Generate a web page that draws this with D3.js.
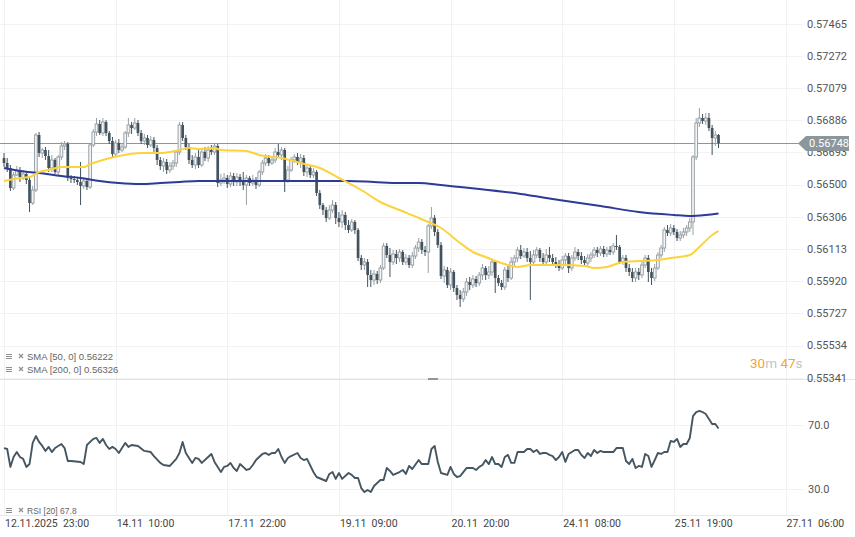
<!DOCTYPE html>
<html>
<head>
<meta charset="utf-8">
<script src="https://cdn.jsdelivr.net/npm/d3@7"></script>
<style>
  body { margin: 0; background: #fff; }
  svg { display: block; font-family: Roboto, "Noto Sans", sans-serif; }
</style>
</head>
<body>
<div id="chart"></div>
<script>
// hourly candles, [open, high, low, close]
var candles = [
[0.56659,0.56689,0.56605,0.56629],[0.56629,0.56659,0.56575,0.56599],[0.56599,0.56617,0.56461,0.56479],[0.56479,0.56575,0.56467,0.56557],
[0.56557,0.56611,0.56551,0.56587],[0.56587,0.56605,0.56515,0.56539],[0.56539,0.56587,0.56527,0.56563],[0.56563,0.56575,0.56503,0.56527],
[0.56527,0.56545,0.56335,0.56389],[0.56389,0.56491,0.56377,0.56467],[0.56467,0.56809,0.56455,0.56797],[0.56797,0.56815,0.56665,0.56689],
[0.56689,0.56719,0.56659,0.56707],[0.56707,0.56725,0.56647,0.56671],[0.56671,0.56707,0.56575,0.56599],[0.56599,0.56677,0.56575,0.56647],
[0.56647,0.56659,0.56563,0.56575],[0.56575,0.56677,0.56557,0.56665],[0.56665,0.56755,0.56647,0.56731],[0.56731,0.56761,0.56707,0.56743],
[0.56743,0.56755,0.56521,0.56539],[0.56539,0.56557,0.56509,0.56533],[0.56533,0.56551,0.56509,0.56527],[0.56527,0.56545,0.56497,0.56515],
[0.56515,0.56635,0.56377,0.56491],[0.56491,0.56539,0.56473,0.56521],[0.56521,0.56533,0.56467,0.56485],[0.56485,0.56749,0.56473,0.56737],
[0.56737,0.56833,0.56725,0.56815],[0.56815,0.56899,0.56791,0.56863],[0.56863,0.56887,0.56797,0.56809],[0.56809,0.56899,0.56791,0.56875],
[0.56875,0.56887,0.56791,0.56809],[0.56809,0.56821,0.56743,0.56761],[0.56761,0.56785,0.56659,0.56683],[0.56683,0.56767,0.56671,0.56749],
[0.56749,0.56773,0.56689,0.56707],[0.56707,0.56749,0.56695,0.56725],[0.56725,0.56821,0.56713,0.56809],[0.56809,0.56899,0.56785,0.56857],
[0.56857,0.56875,0.56803,0.56839],[0.56839,0.56899,0.56827,0.56869],[0.56869,0.56887,0.56791,0.56809],[0.56809,0.56827,0.56743,0.56761],
[0.56761,0.56803,0.56737,0.56779],[0.56779,0.56797,0.56719,0.56737],[0.56737,0.56791,0.56725,0.56767],[0.56767,0.56785,0.56689,0.56719],
[0.56719,0.56737,0.56617,0.56647],[0.56647,0.56665,0.56587,0.56611],[0.56611,0.56659,0.56575,0.56635],[0.56635,0.56653,0.56563,0.56587],
[0.56587,0.56635,0.56569,0.56611],[0.56611,0.56647,0.56587,0.56629],[0.56629,0.56707,0.56605,0.56695],[0.56695,0.56875,0.56677,0.56857],
[0.56857,0.56875,0.56761,0.56779],[0.56779,0.56797,0.56707,0.56725],[0.56725,0.56743,0.56623,0.56647],[0.56647,0.56677,0.56599,0.56617],
[0.56617,0.56689,0.56593,0.56665],[0.56665,0.56707,0.56599,0.56617],[0.56617,0.56713,0.56605,0.56695],[0.56695,0.56725,0.56641,0.56659],
[0.56659,0.56731,0.56635,0.56707],[0.56707,0.56737,0.56677,0.56695],[0.56695,0.56743,0.56677,0.56731],[0.56731,0.56743,0.56485,0.56509],
[0.56509,0.56563,0.56491,0.56527],[0.56527,0.56569,0.56503,0.56539],[0.56539,0.56557,0.56479,0.56503],[0.56503,0.56575,0.56485,0.56551],
[0.56551,0.56569,0.56491,0.56515],[0.56515,0.56569,0.56491,0.56545],[0.56545,0.56563,0.56491,0.56515],[0.56515,0.56575,0.56467,0.56497],
[0.56497,0.56557,0.56377,0.56539],[0.56539,0.56551,0.56491,0.56509],[0.56509,0.56557,0.56491,0.56527],[0.56527,0.56545,0.56473,0.56497],
[0.56497,0.56587,0.56485,0.56575],[0.56575,0.56647,0.56557,0.56629],[0.56629,0.56683,0.56611,0.56659],[0.56659,0.56677,0.56611,0.56629],
[0.56629,0.56671,0.56617,0.56647],[0.56647,0.56719,0.56629,0.56695],[0.56695,0.56743,0.56659,0.56677],[0.56677,0.56725,0.56647,0.56707],
[0.56707,0.56719,0.56455,0.56527],[0.56527,0.56611,0.56509,0.56587],[0.56587,0.56665,0.56575,0.56647],[0.56647,0.56683,0.56629,0.56665],
[0.56665,0.56689,0.56617,0.56635],[0.56635,0.56683,0.56599,0.56659],[0.56659,0.56677,0.56551,0.56575],[0.56575,0.56617,0.56545,0.56599],
[0.56599,0.56611,0.56539,0.56557],[0.56557,0.56599,0.56539,0.56575],[0.56575,0.56587,0.56431,0.56449],[0.56449,0.56467,0.56353,0.56377],
[0.56377,0.56389,0.56317,0.56347],[0.56347,0.56365,0.56275,0.56299],[0.56299,0.56377,0.56287,0.56347],[0.56347,0.56407,0.56329,0.56377],
[0.56377,0.56395,0.56263,0.56299],[0.56299,0.56335,0.56245,0.56275],[0.56275,0.56347,0.56239,0.56317],[0.56317,0.56335,0.56227,0.56257],
[0.56257,0.56287,0.56209,0.56227],[0.56227,0.56293,0.56215,0.56275],[0.56275,0.56287,0.56203,0.56227],[0.56227,0.56239,0.56041,0.56059],
[0.56059,0.56077,0.55987,0.56017],[0.56017,0.56059,0.55987,0.56035],[0.56035,0.56053,0.55885,0.55957],[0.55957,0.55987,0.55885,0.55927],
[0.55927,0.55987,0.55897,0.55963],[0.55963,0.55981,0.55903,0.55927],[0.55927,0.56017,0.55909,0.55999],[0.55999,0.56149,0.55987,0.56131],
[0.56131,0.56149,0.56059,0.56077],[0.56077,0.56119,0.55945,0.56035],[0.56035,0.56107,0.56017,0.56083],[0.56083,0.56107,0.56023,0.56059],
[0.56059,0.56113,0.56035,0.56095],[0.56095,0.56107,0.56017,0.56035],[0.56035,0.56083,0.56017,0.56059],[0.56059,0.56077,0.55999,0.56017],
[0.56017,0.56095,0.55999,0.56071],[0.56071,0.56137,0.56053,0.56119],[0.56119,0.56179,0.56095,0.56155],[0.56155,0.56173,0.56083,0.56107],
[0.56107,0.56131,0.56071,0.56095],[0.56095,0.56263,0.55969,0.56251],[0.56251,0.56365,0.56233,0.56299],[0.56299,0.56317,0.56191,0.56215],
[0.56215,0.56233,0.56119,0.56137],[0.56137,0.56155,0.55933,0.55951],[0.55951,0.56011,0.55909,0.55987],[0.55987,0.56005,0.55879,0.55897],
[0.55897,0.55999,0.55867,0.55975],[0.55975,0.55987,0.55855,0.55879],[0.55879,0.55897,0.55807,0.55837],[0.55837,0.55867,0.55765,0.55813],
[0.55813,0.55879,0.55795,0.55855],[0.55855,0.55939,0.55831,0.55915],[0.55915,0.55945,0.55867,0.55897],[0.55897,0.55957,0.55879,0.55933],
[0.55933,0.55951,0.55885,0.55909],[0.55909,0.55975,0.55891,0.55957],[0.55957,0.56023,0.55927,0.55999],[0.55999,0.56011,0.55927,0.55957],
[0.55957,0.56011,0.55933,0.55975],[0.55975,0.56053,0.55951,0.56035],[0.56035,0.56047,0.55849,0.55939],[0.55939,0.55957,0.55891,0.55909],
[0.55909,0.55927,0.55867,0.55885],[0.55885,0.56005,0.55867,0.55987],[0.55987,0.56011,0.55915,0.55939],[0.55939,0.56065,0.55927,0.56035],
[0.56035,0.56077,0.56011,0.56059],[0.56059,0.56125,0.56035,0.56107],[0.56107,0.56137,0.56053,0.56071],[0.56071,0.56119,0.56059,0.56095],
[0.56095,0.56119,0.56035,0.56059],[0.56059,0.56101,0.55807,0.56035],[0.56035,0.56107,0.56017,0.56077],[0.56077,0.56125,0.56059,0.56107],
[0.56107,0.56119,0.56035,0.56059],[0.56059,0.56089,0.56017,0.56035],[0.56035,0.56113,0.56017,0.56077],[0.56077,0.56125,0.56035,0.56059],
[0.56059,0.56083,0.56017,0.56035],[0.56035,0.56065,0.55999,0.56023],[0.56023,0.56047,0.55981,0.55999],[0.55999,0.56071,0.55987,0.56047],
[0.56047,0.56089,0.56023,0.56071],[0.56071,0.56089,0.55969,0.55999],[0.55999,0.56077,0.55981,0.56059],[0.56059,0.56125,0.56041,0.56095],
[0.56095,0.56113,0.56047,0.56071],[0.56071,0.56095,0.56023,0.56047],[0.56047,0.56071,0.56005,0.56029],[0.56029,0.56083,0.56011,0.56059],
[0.56059,0.56095,0.56035,0.56077],[0.56077,0.56125,0.56059,0.56107],[0.56107,0.56125,0.56065,0.56089],[0.56089,0.56131,0.56071,0.56113],
[0.56113,0.56131,0.56065,0.56083],[0.56083,0.56125,0.56065,0.56107],[0.56107,0.56131,0.56077,0.56095],[0.56095,0.56149,0.56077,0.56131],
[0.56131,0.56197,0.56107,0.56125],[0.56125,0.56137,0.56023,0.56035],[0.56035,0.56077,0.56017,0.56059],[0.56059,0.56077,0.55975,0.55999],
[0.55999,0.56023,0.55951,0.55975],[0.55975,0.55999,0.55915,0.55939],[0.55939,0.55999,0.55915,0.55975],[0.55975,0.55999,0.55927,0.55957],
[0.55957,0.56035,0.55939,0.56017],[0.56017,0.56077,0.55999,0.56059],[0.56059,0.56077,0.55915,0.55975],[0.55975,0.55999,0.55897,0.55939],
[0.55939,0.56023,0.55921,0.55999],[0.55999,0.56095,0.55987,0.56077],[0.56077,0.56137,0.56059,0.56119],[0.56119,0.56245,0.56095,0.56227],
[0.56227,0.56257,0.56191,0.56209],[0.56209,0.56263,0.56191,0.56239],[0.56239,0.56257,0.56197,0.56215],[0.56215,0.56233,0.56161,0.56179],
[0.56179,0.56221,0.56161,0.56197],[0.56197,0.56239,0.56179,0.56215],[0.56215,0.56257,0.56191,0.56239],[0.56239,0.56299,0.56215,0.56275],
[0.56275,0.56677,0.56197,0.56665],[0.56665,0.56899,0.56647,0.56869],[0.56869,0.56959,0.56845,0.56899],[0.56899,0.56923,0.56863,0.56881],
[0.56881,0.56929,0.56857,0.56899],[0.56899,0.56929,0.56821,0.56839],[0.56839,0.56857,0.56677,0.56779],[0.56779,0.56821,0.56731,0.56797],
[0.56797,0.56803,0.56719,0.56748]
];

// moving averages read at candle indices: [index, value]
var sma50 = [[0,0.56521],[5,0.56539],[8,0.56545],[11,0.56575],[14,0.56587],[18,0.56605],[21,0.56605],[25,0.56605],[27,0.56623],[30,0.56641],
  [36,0.56671],[43,0.56689],[49,0.56689],[55,0.56707],[58,0.56719],[61,0.56713],[66,0.56719],[68,0.56707],[76,0.56701],[80,0.56677],
  [87,0.56659],[93,0.56629],[99,0.56599],[105,0.56539],[112,0.56467],[118,0.56395],[124,0.56347],[130,0.56299],[137,0.56239],[143,0.56149],
  [147,0.56095],[151,0.56065],[155,0.56035],[161,0.56005],[165,0.56017],[170,0.56017],[175,0.56017],[182,0.56011],[185,0.55999],[189,0.56005],
  [194,0.56035],[199,0.56041],[205,0.56047],[209,0.56059],[215,0.56077],[218,0.56125],[222,0.56197],[224,0.56222]];
var sma200 = [[0,0.56599],[5,0.56581],[11,0.56569],[18,0.56551],[24,0.56539],[30,0.56521],[36,0.56509],[43,0.56503],[49,0.56509],[55,0.56515],
  [61,0.56521],[76,0.56521],[93,0.56521],[108,0.56521],[116,0.56515],[124,0.56509],[130,0.56509],[137,0.56497],[143,0.56485],[149,0.56473],
  [162,0.56443],[174,0.56407],[187,0.56371],[199,0.56335],[210,0.56317],[215,0.56311],[220,0.56317],[224,0.56326]];

var rsi = [[0,55.6],[1,55.0],[2,43.8],[3,50.0],[4,53.1],[5,50.0],[6,48.8],[7,43.8],[8,45.6],[9,58.8],[10,63.1],[11,59.4],[12,56.9],[13,53.8],
  [14,56.3],[15,53.1],[16,55.6],[18,58.1],[19,55.6],[20,47.5],[21,47.5],[24,46.9],[25,45.6],[26,57.5],[28,61.3],[29,61.9],[30,58.8],[31,61.3],
  [32,57.5],[33,55.0],[34,56.3],[35,55.0],[36,52.5],[38,58.8],[39,56.3],[40,57.5],[42,56.9],[44,53.8],[46,53.1],[47,50.6],[49,46.3],[50,45.0],
  [52,44.4],[54,48.8],[55,52.5],[56,59.4],[57,52.5],[58,49.4],[59,46.3],[60,49.4],[61,48.8],[62,46.3],[64,50.0],[65,51.9],[66,46.9],[68,40.6],
  [69,43.8],[70,44.4],[71,46.3],[72,43.1],[73,41.3],[74,45.6],[75,43.8],[76,41.9],[77,42.5],[78,45.0],[79,48.1],[81,51.9],[82,52.5],[83,51.3],
  [84,52.5],[85,52.5],[86,55.0],[87,50.0],[88,46.3],[89,49.4],[90,50.6],[92,52.5],[93,49.4],[94,48.1],[95,48.8],[97,40.6],[98,37.5],[101,35.0],
  [102,39.4],[103,40.6],[104,36.3],[105,40.0],[106,36.3],[108,40.0],[109,38.8],[110,36.9],[111,36.9],[112,30.6],[113,28.1],[114,29.4],[115,28.1],
  [116,31.9],[118,35.6],[119,35.6],[120,43.1],[121,41.3],[122,38.8],[124,40.6],[125,41.9],[126,39.4],[127,44.4],[128,42.5],[130,48.1],[131,45.6],
  [133,45.6],[134,55.0],[135,56.9],[136,46.9],[137,40.0],[139,38.8],[140,43.8],[141,39.4],[142,37.5],[143,38.1],[144,40.6],[145,43.1],[147,43.1],
  [148,41.9],[149,43.8],[150,45.0],[151,48.1],[152,45.6],[153,50.0],[154,45.6],[155,45.6],[156,43.8],[157,50.0],[158,51.3],[159,46.3],[160,46.3],
  [161,53.1],[163,53.1],[164,55.0],[165,55.0],[166,53.1],[167,54.4],[168,51.9],[169,52.5],[170,52.5],[171,51.3],[172,50.6],[173,48.1],[174,50.0],
  [175,53.1],[176,46.9],[177,51.9],[179,54.4],[180,54.4],[181,51.3],[182,49.4],[183,52.5],[184,50.6],[185,54.4],[186,52.5],[187,53.8],[188,53.1],
  [189,53.1],[191,53.1],[192,55.6],[194,55.6],[195,47.5],[196,45.6],[197,48.8],[198,43.1],[199,44.4],[200,43.8],[201,51.9],[202,50.6],[203,43.8],
  [204,48.1],[205,52.5],[206,51.9],[207,53.1],[208,53.1],[209,60.0],[210,59.4],[211,61.3],[212,56.3],[213,58.1],[214,58.1],[215,61.9],[216,75.6],
  [217,78.1],[218,78.8],[219,78.1],[220,76.9],[221,73.8],[222,70.6],[223,70.6],[224,67.8]];

var priceTicks = [0.57465,0.57272,0.57079,0.56886,0.56693,0.56500,0.56306,0.56113,0.55920,0.55727,0.55534,0.55341];
var rsiTicks = [70, 30];
var timeTickIdx = [0,35,70,105,140,175,210,245];
var timeTickLabels = ["12.11.2025  23:00","14.11  10:00","17.11  22:00","19.11  09:00","20.11  20:00","24.11  08:00","25.11  19:00","27.11  06:00"];
var lastPrice = 0.56748;
var legendMain = ["SMA [50, 0] 0.56222", "SMA [200, 0] 0.56326"];
var legendRsi = "RSI [20] 67.8";

var W = 855, H = 537;
var svg = d3.select("#chart").append("svg").attr("width", W).attr("height", H);

var x = d3.scaleLinear().domain([0, 245]).range([4, 785.5]);
var y = d3.scaleLinear().domain([0.57469, 0.55717]).range([23, 315]);
var yr = d3.scaleLinear().domain([70, 30]).range([425, 489]);
var plotRight = 803;

var grid = svg.append("g");
grid.selectAll(".vg").data(timeTickIdx).enter().append("line")
  .attr("x1", function(d){ return Math.round(x(d)) + 0.5; }).attr("x2", function(d){ return Math.round(x(d)) + 0.5; })
  .attr("y1", 0).attr("y2", 515).attr("stroke", "#eff1f3");
grid.selectAll(".hg").data(priceTicks).enter().append("line")
  .attr("x1", 0).attr("x2", plotRight)
  .attr("y1", function(d){ return Math.round(y(d)) + 0.5; }).attr("y2", function(d){ return Math.round(y(d)) + 0.5; })
  .attr("stroke", "#f1f2f4");
grid.selectAll(".rg").data(rsiTicks).enter().append("line")
  .attr("x1", 0).attr("x2", plotRight)
  .attr("y1", function(d){ return Math.round(yr(d)) + 0.5; }).attr("y2", function(d){ return Math.round(yr(d)) + 0.5; })
  .attr("stroke", "#f1f2f4");

// panel separators
svg.append("line").attr("x1", 0).attr("x2", W).attr("y1", 379.5).attr("y2", 379.5).attr("stroke", "#e2e4e7");
svg.append("line").attr("x1", 0).attr("x2", 800).attr("y1", 515.5).attr("y2", 515.5).attr("stroke", "#e6e8ea");
svg.append("rect").attr("x", 428).attr("y", 378).attr("width", 10).attr("height", 2).attr("fill", "#8f9599");

// price axis (the 0.56693 label sits partly under the price tag, as in the source)
svg.append("g").selectAll("text").data(priceTicks).enter().append("text")
  .attr("x", 807).attr("y", function(d){ return y(d); }).attr("dy", "0.35em")
  .attr("font-size", 11).attr("fill", "#555").text(function(d){ return d.toFixed(5); });

// current price line
var yp = Math.round(y(lastPrice)) + 0.5;
svg.append("line").attr("x1", 0).attr("x2", 800).attr("y1", yp).attr("y2", yp).attr("stroke", "#8c969b");

// candles
var bw = 2.7;
var cg = svg.append("g");
candles.forEach(function(c, i){
  var up = c[3] >= c[0];
  var cx = x(i);
  var col = up ? "#99a1a6" : "#43535e";
  cg.append("line").attr("x1", cx).attr("x2", cx).attr("y1", y(c[1])).attr("y2", y(c[2]))
    .attr("stroke", col).attr("stroke-width", 1);
  var top = y(Math.max(c[0], c[3])), bot = y(Math.min(c[0], c[3]));
  cg.append("rect").attr("x", cx - bw / 2).attr("y", top).attr("width", bw).attr("height", Math.max(1, bot - top))
    .attr("fill", up ? "#f4f5f6" : col).attr("stroke", up ? col : "none").attr("stroke-width", up ? 1 : 0);
});

// moving averages
var maLine = d3.line().curve(d3.curveMonotoneX).x(function(d){ return x(d[0]); }).y(function(d){ return y(d[1]); });
svg.append("path").datum(sma200).attr("d", maLine).attr("fill", "none").attr("stroke", "#2d3a97").attr("stroke-width", 2);
svg.append("path").datum(sma50).attr("d", maLine).attr("fill", "none").attr("stroke", "#fbd33c").attr("stroke-width", 2);

// price tag
var tag = svg.append("g");
tag.append("path").attr("d", "M798," + yp + " L806," + (yp - 7.5) + " L849," + (yp - 7.5) + " L849," + (yp + 7.5) + " L806," + (yp + 7.5) + " Z")
  .attr("fill", "#8c979c");
tag.append("text").attr("x", 809).attr("y", yp).attr("dy", "0.35em").attr("font-size", 11).attr("fill", "#fff")
  .text(lastPrice.toFixed(5));

// legend
function legendIcon(g, ly) {
  [0, 2, 4].forEach(function(o){
    g.append("rect").attr("x", 6).attr("y", ly - 3 + o).attr("width", 6).attr("height", 1).attr("fill", "#8f8f8f");
  });
  g.append("path").attr("d", "M19," + (ly - 3) + " L23," + (ly + 1) + " M23," + (ly - 3) + " L19," + (ly + 1))
    .attr("stroke", "#8f8f8f").attr("stroke-width", 1.2);
}
var lg = svg.append("g");
legendMain.forEach(function(t, k){
  var ly = 357 + k * 13;
  legendIcon(lg, ly);
  lg.append("text").attr("x", 27).attr("y", ly).attr("dy", "0.35em").attr("font-size", 9.5)
    .attr("font-family", "Liberation Sans, Arial, sans-serif").attr("fill", "#666").text(t);
});
legendIcon(lg, 511);
lg.append("text").attr("x", 27).attr("y", 511).attr("dy", "0.35em").attr("font-size", 8.5)
  .attr("font-family", "Liberation Sans, Arial, sans-serif").attr("fill", "#666").text(legendRsi);

// countdown
var cd = svg.append("text").attr("x", 750).attr("y", 368).attr("font-size", 13.5);
cd.append("tspan").attr("fill", "#f6a531").text("30");
cd.append("tspan").attr("fill", "#c2c5c8").text("m ");
cd.append("tspan").attr("fill", "#f6a531").text("47");
cd.append("tspan").attr("fill", "#c2c5c8").text("s");

// RSI
var rsiLine = d3.line().x(function(d){ return x(d[0]); }).y(function(d){ return yr(d[1]); });
svg.append("path").datum(rsi).attr("d", rsiLine).attr("fill", "none").attr("stroke", "#465661")
  .attr("stroke-width", 1.9).attr("stroke-linejoin", "round");
svg.append("g").selectAll("text").data(rsiTicks).enter().append("text")
  .attr("x", 808).attr("y", function(d){ return yr(d); }).attr("dy", "0.35em")
  .attr("font-size", 11).attr("fill", "#555").text(function(d){ return d.toFixed(1); });

// time axis
svg.append("g").selectAll("text").data(timeTickIdx).enter().append("text")
  .attr("x", function(d){ return x(d) + 1; }).attr("y", 527)
  .attr("font-size", 10.5).attr("fill", "#444").attr("xml:space", "preserve").style("white-space", "pre")
  .text(function(d, k){ return timeTickLabels[k]; });
</script>
</body>
</html>
